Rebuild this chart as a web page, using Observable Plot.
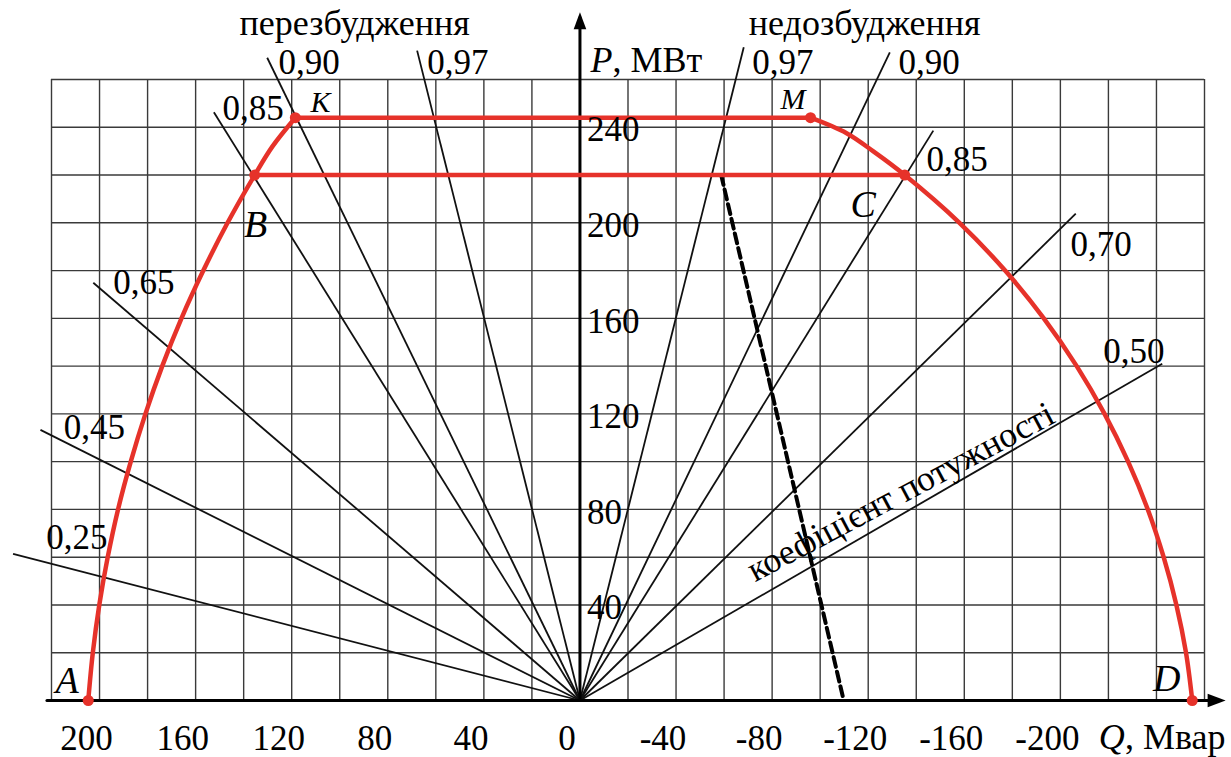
<!DOCTYPE html>
<html>
<head>
<meta charset="utf-8">
<script src="https://cdn.jsdelivr.net/npm/d3@7"></script>
<script src="https://cdn.jsdelivr.net/npm/@observablehq/plot@0.6"></script>
<style>
  html, body { margin: 0; padding: 0; background: #fff; }
  #chart { width: 1231px; height: 757px; }
</style>
</head>
<body>
<div id="chart"></div>
<script>
// ---- data ----
const gridQ = [220, 200, 180, 160, 140, 120, 100, 80, 60, 40, 20, 0, -20, -40, -60, -80, -100, -120, -140, -160, -180, -200, -220, -240, -260];
const gridP = [0, 20, 40, 60, 80, 100, 120, 140, 160, 180, 200, 220, 240, 260];

const xTickValues = [200, 160, 120, 80, 40, 0, -40, -80, -120, -160, -200];
const yTickValues = [40, 80, 120, 160, 200, 240];

// power-factor rays from origin
const pfLabels = ["0,25", "0,45", "0,65", "0,85", "0,90", "0,97", "0,97", "0,90", "0,85", "0,70", "0,50"];
const pfEndQ   = [236.0, 224.6, 202.6, 152.4, 130.2, 67.8, -68.2, -129.0, -147.1, -206.4, -242.4];
const pfEndP   = [61.4, 113.3, 174.9, 246.3, 269.1, 272.1, 273.5, 271.4, 238.6, 203.8, 141.0];
const pfLabelQ = [222.2, 214.9, 194.3, 148.8, 125.5, 63.6, -71.7, -132.6, -144.3, -204.2, -217.8];
const pfLabelP = [63.6, 109.3, 170.4, 243.0, 262.1, 262.5, 262.5, 262.1, 221.7, 186.3, 141.1];

// capability curve (red)
const leftArcQ  = [204.7, 202.8, 200.1, 196.6, 192.3, 187.0, 180.9, 173.9, 165.9, 156.8, 146.7, 135.4, 128.0, 118.5];
const leftArcP  = [0, 20, 40, 60, 80, 100, 120, 140, 160, 180, 200, 220, 232, 244];
const rightArcQ = [-96.0, -111.0, -122.0, -135.2, -158.0, -177.0, -193.1, -206.8, -218.4, -228.2, -236.4, -243.0, -248.3, -252.3, -254.9];
const rightArcP = [244, 237.5, 230, 220, 200, 180, 160, 140, 120, 100, 80, 60, 40, 20, 0];
const topLineQ = [118.5, -96.0];
const topLineP = [244, 244];
const midLineQ = [135.4, -135.2];
const midLineP = [220, 220];

const pointNames = ["A", "B", "K", "M", "C", "D"];
const pointQ = [204.7, 135.4, 118.5, -96.0, -135.2, -254.9];
const pointP = [0, 220, 244, 244, 220, 0];

// point letter labels
const letterText = ["A", "B", "C", "D", "K", "M"];
const letterQ = [218.3, 139.9, -112.6, -238.6, 112.2, -83.5];
const letterP = [3.1, 194.0, 202.4, 3.9, 246.3, 247.7];
const letterBig = [true, true, true, true, false, false];

// dashed line
const dashQ = [-58.8, -109.8];
const dashP = [220, 0];

// axes extents
const xAxisQ = [221.9, -266];
const xArrowQ = [-268.8];
const yAxisP = [0, 286];
const yArrowP = [288.2];

// headings
const headText = ["перезбудження", "недозбудження"];
const headQ = [141.7, -70.3];
const headP = [278.5, 278.5];

// rotated caption
const captionText = ["коефіцієнт потужності"];
const captionQ = [-135.7];
const captionP = [83.1];

// axis titles
const axisItalic = ["P", "Q"];
const axisItalicQ = [-4.4, -216.0];
const axisItalicP = [263.1, -20.1];
const axisRest = [", МВт", ", Мвар"];
const axisRestQ = [-13.5, -226.9];
const axisRestP = [263.1, -20.1];

// ---- build ----
const idx = a => a.map((_, i) => i);
const RED = "#e6322a";
const FONT = "Liberation Serif";

const arrowUp = {draw(ctx) { ctx.moveTo(0, 0); ctx.lineTo(6.3, 17); ctx.lineTo(-6.3, 17); ctx.closePath(); }};
const arrowRight = {draw(ctx) { ctx.moveTo(0, 0); ctx.lineTo(-18, 6.7); ctx.lineTo(-18, -6.7); ctx.closePath(); }};

const T = {fontFamily: FONT, fill: "#000"};

const chart = Plot.plot({
  width: 1231,
  height: 757,
  marginLeft: 51,
  marginRight: 27,
  marginTop: 79,
  marginBottom: 57,
  x: {domain: [220, -260], axis: null},
  y: {domain: [0, 260], axis: null},
  style: {background: "#fff", color: "#000", overflow: "visible", fontFamily: FONT},
  marks: [
    // grid
    Plot.ruleX(gridQ, {x: d => d, y1: () => 0, y2: () => 260, stroke: "#3a3a3a", strokeWidth: 1.4}),
    Plot.ruleY(gridP, {y: d => d, x1: () => 220, x2: () => -260, stroke: "#3a3a3a", strokeWidth: 1.4}),
    // power factor rays
    Plot.link(idx(pfLabels), {x1: () => 0, y1: () => 0, x2: i => pfEndQ[i], y2: i => pfEndP[i], stroke: "#111", strokeWidth: 1.8}),
    // axes
    Plot.line(idx(xAxisQ), {x: i => xAxisQ[i], y: () => 0, stroke: "#000", strokeWidth: 3}),
    Plot.line(idx(yAxisP), {x: () => 0, y: i => yAxisP[i], stroke: "#000", strokeWidth: 3}),
    Plot.dot(xArrowQ, {x: d => d, y: () => 0, symbol: arrowRight, r: 5, fill: "#000", stroke: "none"}),
    Plot.dot(yArrowP, {x: () => 0, y: d => d, symbol: arrowUp, r: 5, fill: "#000", stroke: "none"}),
    // dashed line
    Plot.line(idx(dashQ), {x: i => dashQ[i], y: i => dashP[i], stroke: "#000", strokeWidth: 4, strokeDasharray: "10,5"}),
    // red capability curve
    Plot.line(idx(leftArcQ), {x: i => leftArcQ[i], y: i => leftArcP[i], curve: "catmull-rom", stroke: RED, strokeWidth: 4.5}),
    Plot.line(idx(rightArcQ), {x: i => rightArcQ[i], y: i => rightArcP[i], curve: "catmull-rom", stroke: RED, strokeWidth: 4.5}),
    Plot.line(idx(topLineQ), {x: i => topLineQ[i], y: i => topLineP[i], stroke: RED, strokeWidth: 4.5}),
    Plot.line(idx(midLineQ), {x: i => midLineQ[i], y: i => midLineP[i], stroke: RED, strokeWidth: 4.5}),
    Plot.dot(idx(pointNames), {x: i => pointQ[i], y: i => pointP[i], r: 5.5, fill: RED, stroke: "none"}),
    // tick labels
    Plot.text(xTickValues, {...T, x: d => d, frameAnchor: "bottom", text: d => String(d), dy: 49, dx: -13, lineAnchor: "bottom", textAnchor: "middle", fontSize: 35}),
    Plot.text(yTickValues, {...T, x: () => 0, y: d => d, text: d => String(d), dx: 7, dy: 3, lineAnchor: "middle", textAnchor: "start", fontSize: 35}),
    // pf labels
    Plot.text(idx(pfLabels), {...T, x: i => pfLabelQ[i], y: i => pfLabelP[i], text: i => pfLabels[i], textAnchor: "start", lineAnchor: "bottom", fontSize: 35}),
    // headings
    Plot.text(idx(headText), {...T, x: i => headQ[i], y: i => headP[i], text: i => headText[i], textAnchor: "start", lineAnchor: "bottom", fontSize: 36}),
    // axis titles
    Plot.text(idx(axisItalic), {...T, x: i => axisItalicQ[i], y: i => axisItalicP[i], text: i => axisItalic[i], textAnchor: "start", lineAnchor: "bottom", fontSize: 36, fontStyle: "italic"}),
    Plot.text(idx(axisRest), {...T, x: i => axisRestQ[i], y: i => axisRestP[i], text: i => axisRest[i], textAnchor: "start", lineAnchor: "bottom", fontSize: 36}),
    // point letters
    Plot.text(idx(letterText).filter(i => letterBig[i]), {...T, x: i => letterQ[i], y: i => letterP[i], text: i => letterText[i], textAnchor: "start", lineAnchor: "bottom", fontSize: 38, fontStyle: "italic"}),
    Plot.text(idx(letterText).filter(i => !letterBig[i]), {...T, x: i => letterQ[i], y: i => letterP[i], text: i => letterText[i], textAnchor: "start", lineAnchor: "bottom", fontSize: 30, fontStyle: "italic"}),
    // rotated caption
    Plot.text(idx(captionText), {...T, x: i => captionQ[i], y: i => captionP[i], text: i => captionText[i], rotate: -28, textAnchor: "middle", lineAnchor: "bottom", fontSize: 35.5})
  ]
});
document.getElementById("chart").appendChild(chart);
</script>
</body>
</html>
